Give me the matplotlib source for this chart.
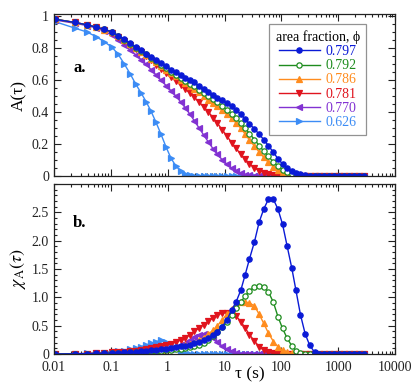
import matplotlib
matplotlib.use("Agg")
import matplotlib.pyplot as plt
from matplotlib.ticker import LogLocator, MultipleLocator, FixedLocator, NullFormatter

plt.rcParams['font.family'] = ['Liberation Serif', 'DejaVu Serif']
plt.rcParams['mathtext.fontset'] = 'stix'

# lag times (s)
tau = [0.0104, 0.023, 0.038, 0.056, 0.076, 0.105, 0.135, 0.173, 0.218, 0.274,
       0.34, 0.417, 0.51, 0.625, 0.766, 0.94, 1.15, 1.41, 1.72, 2.05,
       2.48, 2.95, 3.57, 4.33, 5.21, 6.3, 7.5, 9.08, 11.0, 13.4,
       16.0, 19.4, 23.1, 27.5, 33.6, 40.7, 49.0, 59.0, 72.5, 87.0,
       105, 126, 153, 180, 217, 263, 313, 383, 466, 569,
       694, 846, 1032, 1260, 1537, 1875, 2288, 2791]

phi_labels = ['0.797', '0.792', '0.786', '0.781', '0.770', '0.626']

A_797 = [0.98, 0.96, 0.945, 0.93, 0.917, 0.90, 0.878, 0.855, 0.83, 0.805,
         0.785, 0.765, 0.745, 0.725, 0.705, 0.685, 0.665, 0.648, 0.63, 0.615,
         0.60, 0.585, 0.565, 0.545, 0.525, 0.508, 0.49, 0.472, 0.455, 0.435,
         0.412, 0.385, 0.355, 0.325, 0.295, 0.26, 0.228, 0.19, 0.148, 0.108,
         0.075, 0.05, 0.03, 0.018, 0.01, 0.005, 0.003, 0.002, 0.001, 0.001,
         0.0, 0.0, 0.0, 0.0, 0.0, 0.0, 0.0, 0.0]
A_792 = [0.98, 0.96, 0.945, 0.93, 0.917, 0.90, 0.877, 0.853, 0.828, 0.803,
         0.782, 0.76, 0.738, 0.716, 0.694, 0.673, 0.652, 0.632, 0.612, 0.595,
         0.577, 0.56, 0.54, 0.52, 0.50, 0.48, 0.46, 0.438, 0.415, 0.39,
         0.362, 0.33, 0.298, 0.265, 0.228, 0.19, 0.155, 0.122, 0.088, 0.06,
         0.038, 0.022, 0.012, 0.007, 0.004, 0.002, 0.001, 0.0, 0.0, 0.0,
         0.0, 0.0, 0.0, 0.0, 0.0, 0.0, 0.0, 0.0]
A_786 = [0.98, 0.96, 0.945, 0.93, 0.915, 0.898, 0.875, 0.85, 0.825, 0.80,
         0.777, 0.755, 0.733, 0.71, 0.688, 0.665, 0.643, 0.622, 0.60, 0.582,
         0.562, 0.543, 0.522, 0.50, 0.478, 0.456, 0.435, 0.412, 0.388, 0.36,
         0.332, 0.298, 0.262, 0.225, 0.187, 0.15, 0.117, 0.086, 0.058, 0.037,
         0.022, 0.012, 0.006, 0.003, 0.001, 0.0, 0.0, 0.0, 0.0, 0.0,
         0.0, 0.0, 0.0, 0.0, 0.0, 0.0, 0.0, 0.0]
A_781 = [0.98, 0.96, 0.945, 0.93, 0.913, 0.895, 0.87, 0.845, 0.82, 0.795,
         0.772, 0.748, 0.722, 0.696, 0.67, 0.643, 0.617, 0.592, 0.566, 0.543,
         0.517, 0.492, 0.462, 0.432, 0.40, 0.365, 0.33, 0.29, 0.25, 0.208,
         0.172, 0.135, 0.105, 0.077, 0.052, 0.034, 0.021, 0.012, 0.006, 0.003,
         0.001, 0.0, 0.0, 0.0, 0.0, 0.0, 0.0, 0.0, 0.0, 0.0,
         0.0, 0.0, 0.0, 0.0, 0.0, 0.0, 0.0, 0.0]
A_770 = [0.975, 0.955, 0.94, 0.925, 0.905, 0.88, 0.85, 0.818, 0.788, 0.758,
         0.728, 0.698, 0.665, 0.632, 0.598, 0.565, 0.532, 0.498, 0.46, 0.425,
         0.385, 0.345, 0.30, 0.255, 0.212, 0.17, 0.135, 0.102, 0.073, 0.048,
         0.03, 0.017, 0.009, 0.004, 0.002, 0.0, 0.0, 0.0, 0.0, 0.0,
         0.0, 0.0, 0.0, 0.0, 0.0, 0.0, 0.0, 0.0, 0.0, 0.0,
         0.0, 0.0, 0.0, 0.0, 0.0, 0.0, 0.0, 0.0]
A_626 = [0.965, 0.925, 0.90, 0.87, 0.84, 0.805, 0.76, 0.70, 0.64, 0.575,
         0.52, 0.465, 0.405, 0.335, 0.26, 0.18, 0.11, 0.06, 0.03, 0.015,
         0.006, 0.002, 0.0, 0.0, 0.0, 0.0, 0.0, 0.0, 0.0, 0.0,
         0.0, 0.0, 0.0, 0.0, 0.0, 0.0, 0.0, 0.0, 0.0, 0.0,
         0.0, 0.0, 0.0, 0.0, 0.0, 0.0, 0.0, 0.0, 0.0, 0.0,
         0.0, 0.0, 0.0, 0.0, 0.0, 0.0, 0.0, 0.0]

X_797 = [0.0, 0.003, 0.006, 0.01, 0.013, 0.018, 0.022, 0.027, 0.033, 0.04,
         0.047, 0.055, 0.063, 0.072, 0.082, 0.093, 0.105, 0.118, 0.132, 0.147,
         0.165, 0.185, 0.21, 0.24, 0.28, 0.33, 0.39, 0.48, 0.60, 0.78,
         0.92, 1.13, 1.40, 1.68, 1.98, 2.33, 2.56, 2.73, 2.73, 2.56,
         2.29, 1.91, 1.51, 1.13, 0.69, 0.35, 0.16, 0.03, 0.005, 0.0,
         0.0, 0.0, 0.0, 0.0, 0.0, 0.0, 0.0, 0.0]
X_792 = [0.0, 0.002, 0.005, 0.008, 0.011, 0.015, 0.019, 0.023, 0.028, 0.033,
         0.038, 0.043, 0.048, 0.054, 0.06, 0.066, 0.074, 0.083, 0.093, 0.105,
         0.12, 0.14, 0.165, 0.20, 0.25, 0.31, 0.38, 0.47, 0.57, 0.69,
         0.81, 0.92, 1.02, 1.12, 1.18, 1.20, 1.18, 1.10, 0.91, 0.66,
         0.45, 0.28, 0.14, 0.06, 0.02, 0.008, 0.003, 0.0, 0.0, 0.0,
         0.0, 0.0, 0.0, 0.0, 0.0, 0.0, 0.0, 0.0]
X_786 = [0.0, 0.003, 0.006, 0.009, 0.013, 0.017, 0.021, 0.026, 0.031, 0.037,
         0.043, 0.05, 0.058, 0.067, 0.077, 0.088, 0.10, 0.115, 0.13, 0.15,
         0.17, 0.20, 0.24, 0.29, 0.35, 0.42, 0.50, 0.60, 0.70, 0.79,
         0.87, 0.91, 0.92, 0.90, 0.85, 0.70, 0.54, 0.37, 0.22, 0.13,
         0.07, 0.03, 0.01, 0.003, 0.0, 0.0, 0.0, 0.0, 0.0, 0.0,
         0.0, 0.0, 0.0, 0.0, 0.0, 0.0, 0.0, 0.0]
X_781 = [0.0, 0.004, 0.008, 0.013, 0.019, 0.026, 0.033, 0.041, 0.05, 0.06,
         0.072, 0.085, 0.10, 0.115, 0.135, 0.155, 0.18, 0.21, 0.25, 0.29,
         0.34, 0.40, 0.46, 0.52, 0.58, 0.64, 0.69, 0.72, 0.73, 0.72,
         0.67, 0.57, 0.46, 0.34, 0.23, 0.13, 0.065, 0.03, 0.012, 0.005,
         0.0, 0.0, 0.0, 0.0, 0.0, 0.0, 0.0, 0.0, 0.0, 0.0,
         0.0, 0.0, 0.0, 0.0, 0.0, 0.0, 0.0, 0.0]
X_770 = [0.0, 0.003, 0.006, 0.009, 0.012, 0.016, 0.02, 0.025, 0.03, 0.036,
         0.043, 0.05, 0.06, 0.07, 0.082, 0.096, 0.112, 0.13, 0.16, 0.20,
         0.25, 0.30, 0.34, 0.35, 0.33, 0.28, 0.21, 0.14, 0.085, 0.045,
         0.02, 0.008, 0.003, 0.0, 0.0, 0.0, 0.0, 0.0, 0.0, 0.0,
         0.0, 0.0, 0.0, 0.0, 0.0, 0.0, 0.0, 0.0, 0.0, 0.0,
         0.0, 0.0, 0.0, 0.0, 0.0, 0.0, 0.0, 0.0]
X_626 = [0.0, 0.005, 0.01, 0.016, 0.023, 0.032, 0.045, 0.06, 0.08, 0.105,
         0.13, 0.16, 0.19, 0.22, 0.24, 0.22, 0.16, 0.09, 0.04, 0.015,
         0.005, 0.0, 0.0, 0.0, 0.0, 0.0, 0.0, 0.0, 0.0, 0.0,
         0.0, 0.0, 0.0, 0.0, 0.0, 0.0, 0.0, 0.0, 0.0, 0.0,
         0.0, 0.0, 0.0, 0.0, 0.0, 0.0, 0.0, 0.0, 0.0, 0.0,
         0.0, 0.0, 0.0, 0.0, 0.0, 0.0, 0.0, 0.0]

A_series = [A_797, A_792, A_786, A_781, A_770, A_626]
X_series = [X_797, X_792, X_786, X_781, X_770, X_626]

colors = ['#0A1AD6', '#1E8C1E', '#FF8C1E', '#E0141E', '#8232D2', '#3C8CF5']
markers = ['o', 'o', '^', 'v', '<', '>']
filled = [True, False, True, True, True, True]

fig = plt.figure(figsize=(4.15, 3.86), dpi=100)
axA = fig.add_axes([0.130, 0.544, 0.822, 0.4195])
axX = fig.add_axes([0.130, 0.083, 0.822, 0.440])

handles = []
order = [5, 4, 3, 2, 1, 0]
for ax, data in ((axA, A_series), (axX, X_series)):
    hs = {}
    for i in order:
        mfc = colors[i] if filled[i] else 'white'
        h, = ax.plot(tau, data[i], color=colors[i], lw=1.0, marker=markers[i],
                     ms=3.8, mfc=mfc, mec=colors[i], mew=0.9,
                     label=phi_labels[i])
        hs[i] = h
    if ax is axA:
        handles = [hs[i] for i in range(6)]

for ax in (axA, axX):
    ax.set_xscale('log')
    ax.set_xlim(0.01, 10000)
    ax.xaxis.set_major_locator(LogLocator(base=10, numticks=20))
    ax.xaxis.set_minor_locator(LogLocator(base=10, subs=[2, 3, 4, 5, 6, 7, 8, 9], numticks=20))
    ax.xaxis.set_minor_formatter(NullFormatter())
    ax.tick_params(which='both', direction='in', top=True, right=True,
                   labelsize=10, colors='#222222', width=0.8)
    ax.tick_params(which='major', length=5)
    ax.tick_params(which='minor', length=2.5)
    ax.tick_params(axis='x', pad=5)
    for s in ax.spines.values():
        s.set_color('#222222')
        s.set_linewidth(0.9)

axA.set_ylim(0, 1.012)
axA.yaxis.set_major_locator(FixedLocator([0, 0.2, 0.4, 0.6, 0.8, 1.0]))
axA.set_yticklabels(['0', '0.2', '0.4', '0.6', '0.8', '1'])
axA.yaxis.set_minor_locator(MultipleLocator(0.05))
axA.tick_params(axis='x', labelbottom=False)
axA.set_ylabel('A(τ)', fontsize=12.5, labelpad=3)
axA.text(0.056, 0.645, 'a.', transform=axA.transAxes, fontsize=12, fontweight='bold')

axX.set_ylim(0, 3.0)
axX.yaxis.set_major_locator(FixedLocator([0, 0.5, 1.0, 1.5, 2.0, 2.5]))
axX.set_yticklabels(['0', '0.5', '1.0', '1.5', '2.0', '2.5'])
axX.yaxis.set_minor_locator(MultipleLocator(0.1))
axX.set_xticks([0.01, 0.1, 1, 10, 100, 1000, 10000])
axX.set_xticklabels(['0.01', '0.1', '1', '10', '100', '1000', '10000'])
axX.set_ylabel(r'$\chi_{\mathrm{A}}(\tau)$', fontsize=13, labelpad=3)
axX.set_xlabel('τ (s)', fontsize=12.5)
axX.xaxis.set_label_coords(0.575, -0.075)
axX.text(0.056, 0.745, 'b.', transform=axX.transAxes, fontsize=12, fontweight='bold')

leg = axA.legend(handles=handles, loc='upper right', bbox_to_anchor=(0.915, 0.938),
                 borderaxespad=0.0,
                 title='area fraction, ϕ', fontsize=10, title_fontsize=10,
                 frameon=True, fancybox=False, edgecolor='#777777',
                 handlelength=3.0, handletextpad=0.4, labelspacing=0.08,
                 borderpad=0.45, markerscale=1.0)
leg.get_frame().set_linewidth(0.9)
for txt, c in zip(leg.get_texts(), colors):
    txt.set_color(c)

fig.savefig('out.png', dpi=100)
